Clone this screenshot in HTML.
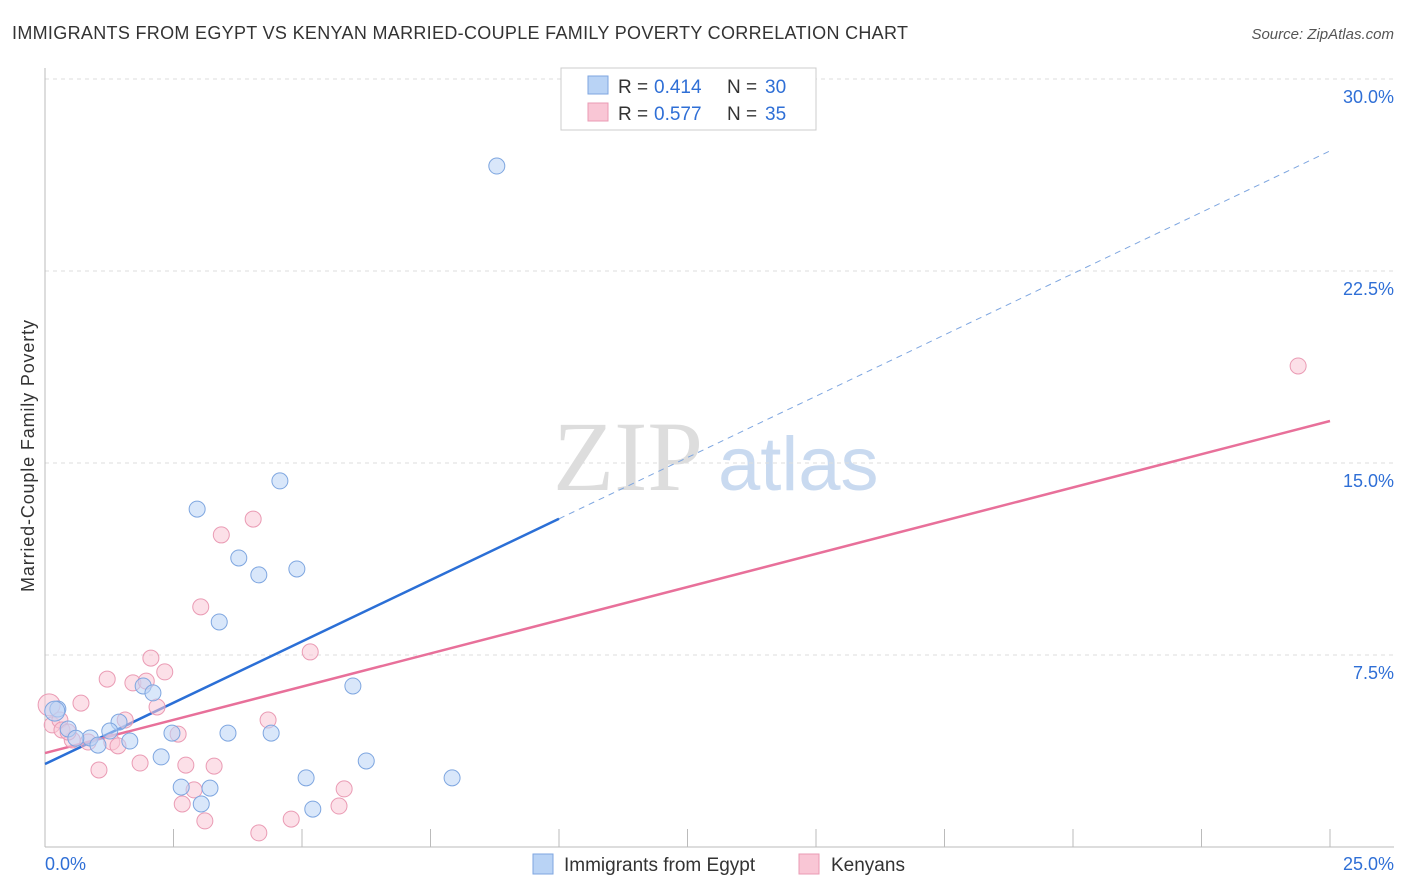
<!DOCTYPE html>
<html><head><meta charset="utf-8"><style>
body{margin:0;background:#fff;font-family:"Liberation Sans",sans-serif;}
svg{display:block}
</style></head><body>
<svg id="chart" width="1406" height="892">
<text x="12" y="39" font-size="18" fill="#333" textLength="896">IMMIGRANTS FROM EGYPT VS KENYAN MARRIED-COUPLE FAMILY POVERTY CORRELATION CHART</text>
<text x="1394" y="39" font-size="15" fill="#555" font-style="italic" text-anchor="end">Source: ZipAtlas.com</text>
<text x="553" y="490" font-size="100" fill="#ddd" font-family="Liberation Serif">ZIP</text>
<text x="718" y="490" font-size="76" fill="#c9daf0">atlas</text>
<g id="grid"></g><g id="axes"></g><g id="lines"></g><g id="pts"></g>
<text transform="translate(34,456) rotate(-90)" font-size="18" fill="#333" text-anchor="middle" textLength="272">Married-Couple Family Poverty</text>
<g>
<rect x="561" y="68" width="255" height="62" fill="#fff" stroke="#ccc"/>
<rect x="588" y="76" width="20" height="18" fill="#b9d3f5" stroke="#7ea6e0"/>
<rect x="588" y="103" width="20" height="18" fill="#f9c6d5" stroke="#ea9bb4"/>
<text y="93" font-size="19" fill="#333"><tspan x="618">R =</tspan><tspan x="654" fill="#2f6fd6">0.414</tspan><tspan x="727">N =</tspan><tspan x="765" fill="#2f6fd6">30</tspan></text>
<text y="120" font-size="19" fill="#333"><tspan x="618">R =</tspan><tspan x="654" fill="#2f6fd6">0.577</tspan><tspan x="727">N =</tspan><tspan x="765" fill="#2f6fd6">35</tspan></text>
</g>
<g>
<rect x="533" y="854" width="20" height="20" fill="#b9d3f5" stroke="#7ea6e0"/>
<text x="564" y="871" font-size="19" fill="#333">Immigrants from Egypt</text>
<rect x="799" y="854" width="20" height="20" fill="#f9c6d5" stroke="#ea9bb4"/>
<text x="831" y="871" font-size="19" fill="#333">Kenyans</text>
</g>
</svg>
<script>
const yTicks=[7.5,15,22.5,30];
const yTickLabels=["7.5%","15.0%","22.5%","30.0%"];
const xTickLabels=["0.0%","25.0%"];
const egyptX=[8.79,4.57,2.96,3.77,4.16,4.90,3.39,5.99,1.91,2.10,1.44,1.26,0.45,0.25,0.19,0.88,1.03,1.65,2.47,3.56,4.40,2.26,6.25,5.08,7.92,2.65,3.21,3.04,5.21,0.60];
const egyptY=[26.6,14.3,13.2,11.29,10.63,10.86,8.79,6.29,6.29,6.02,4.88,4.53,4.61,5.39,5.31,4.26,3.98,4.14,4.45,4.45,4.45,3.52,3.36,2.7,2.7,2.34,2.3,1.68,1.48,4.25];
const kenX=[24.38,4.05,3.43,3.03,5.16,2.06,2.33,1.21,1.71,1.97,0.7,2.18,1.56,0.08,0.14,0.29,0.53,0.84,1.3,1.42,2.59,4.34,1.85,1.05,2.74,3.29,2.9,5.82,2.67,5.72,3.11,4.79,4.16,0.33,0.45];
const kenY=[18.79,12.81,12.19,9.38,7.62,7.38,6.84,6.56,6.41,6.48,5.62,5.47,4.96,5.55,4.77,4.96,4.18,4.1,4.1,3.95,4.41,4.96,3.28,3.01,3.2,3.16,2.23,2.27,1.68,1.6,1.02,1.09,0.55,4.57,4.49];
const egyptLine=[3.24,27.19], kenLine=[3.67,16.64];
const X=v=>45+v/25*1285, Y=v=>847-v/7.5*192;
const NS="http://www.w3.org/2000/svg";
function mk(p,t,a){const e=document.createElementNS(NS,t);for(const k in a)e.setAttribute(k,a[k]);document.getElementById(p).appendChild(e);return e;}
yTicks.forEach((t,i)=>{
 const l=mk('grid','line',{x1:45,x2:1394,y1:Y(t),y2:Y(t),stroke:'#ddd','stroke-dasharray':'4,4'});
 
 
 const tx=mk('axes','text',{x:1394,y:Y(t)+24,'font-size':18,fill:'#2f6fd6','text-anchor':'end'});tx.textContent=yTickLabels[i];
 
 
});
mk('axes','line',{x1:45,x2:45,y1:68,y2:847,stroke:'#bbb'});
mk('axes','line',{x1:45,x2:1394,y1:847,y2:847,stroke:'#bbb'});
for(let i=0;i<=10;i++){const t=mk('axes','line',{x1:X(i*2.5),x2:X(i*2.5),y1:829,y2:847,stroke:'#bbb'});
 
 }
let a=mk('axes','text',{x:45,y:870,'font-size':18,fill:'#2f6fd6'});a.textContent=xTickLabels[0];

a=mk('axes','text',{x:1394,y:870,'font-size':18,fill:'#2f6fd6','text-anchor':'end'});a.textContent=xTickLabels[1];

const ey=x=>egyptLine[0]+(egyptLine[1]-egyptLine[0])*x/25;
const ky=x=>kenLine[0]+(kenLine[1]-kenLine[0])*x/25;
let l=mk('lines','line',{x1:X(0),y1:Y(ey(0)),x2:X(10),y2:Y(ey(10)),stroke:'#2b6fd6','stroke-width':2.5});

l=mk('lines','line',{x1:X(10),y1:Y(ey(10)),x2:X(25),y2:Y(ey(25)),stroke:'#7ea6e0','stroke-width':1,'stroke-dasharray':'6,5'});

l=mk('lines','line',{x1:X(0),y1:Y(ky(0)),x2:X(25),y2:Y(ky(25)),stroke:'#e8709a','stroke-width':2.5});

kenX.forEach((x,i)=>{const c=mk('pts','circle',{cx:X(x),cy:Y(kenY[i]),r:i==13?11:8,fill:'rgba(249,198,213,0.55)',stroke:'#ea9bb4'});
 
 });
egyptX.forEach((x,i)=>{const c=mk('pts','circle',{cx:X(x),cy:Y(egyptY[i]),r:i==14?10:8,fill:'rgba(185,211,245,0.55)',stroke:'#7ea6e0'});
 
 });
</script>
</body></html>
